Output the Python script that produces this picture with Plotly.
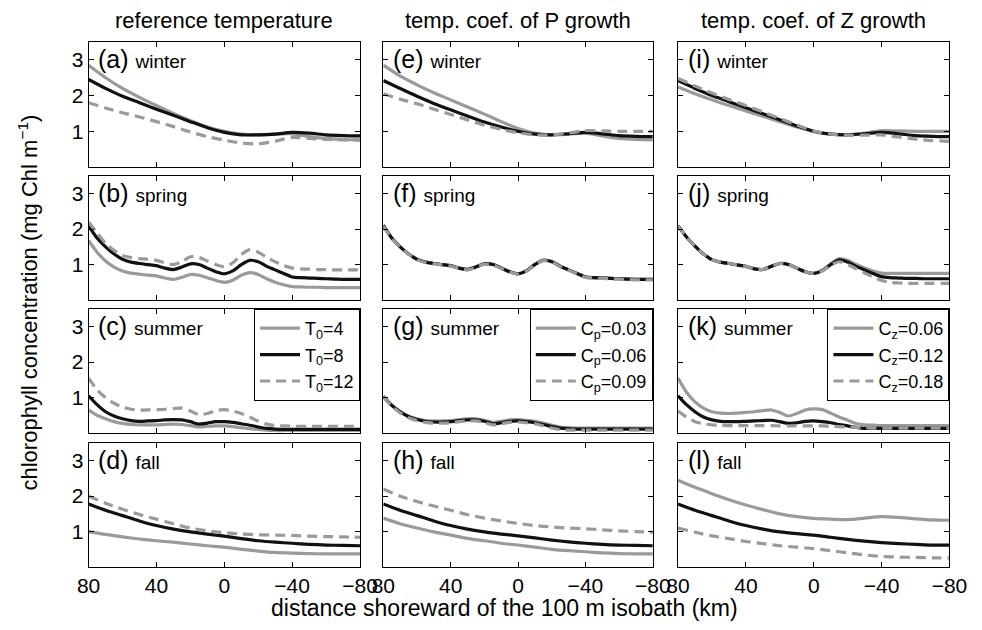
import plotly.graph_objects as go

W, H = 982, 630

# ---------------- data ----------------
x10 = [80, 70, 60, 50, 40, 30, 20, 10, 0, -10, -20, -30, -40, -50, -60, -70, -80]
x5 = [80, 75, 70, 65, 60, 55, 50, 45, 40, 35, 30, 25, 20, 15, 10, 5, 0,
      -5, -10, -15, -20, -25, -30, -35, -40, -45, -50, -55, -60, -65, -70, -75, -80]

# column 1: reference temperature (T0 = 4, 8, 12)
a_gray = [2.85, 2.5, 2.2, 1.95, 1.72, 1.5, 1.3, 1.12, 1.0, 0.92, 0.9, 0.92, 0.93, 0.85, 0.8, 0.77, 0.76]
a_black = [2.45, 2.2, 1.98, 1.8, 1.62, 1.45, 1.27, 1.1, 0.97, 0.9, 0.9, 0.92, 0.97, 0.95, 0.9, 0.88, 0.87]
a_dash = [1.8, 1.65, 1.52, 1.4, 1.27, 1.13, 0.98, 0.85, 0.75, 0.67, 0.65, 0.72, 0.83, 0.8, 0.77, 0.76, 0.75]

b_gray = [1.68, 1.35, 1.1, 0.93, 0.82, 0.76, 0.73, 0.7, 0.68, 0.62, 0.58, 0.64, 0.72, 0.7, 0.63, 0.55, 0.5,
          0.56, 0.7, 0.77, 0.72, 0.6, 0.5, 0.43, 0.38, 0.37, 0.36, 0.36, 0.35, 0.35, 0.35, 0.35, 0.35]
b_black = [2.1, 1.75, 1.5, 1.3, 1.15, 1.07, 1.03, 1.0, 0.97, 0.9, 0.86, 0.93, 1.02, 1.0, 0.9, 0.8, 0.74,
           0.82, 1.0, 1.12, 1.08, 0.95, 0.85, 0.75, 0.65, 0.63, 0.62, 0.61, 0.6, 0.59, 0.58, 0.58, 0.58]
b_dash = [2.2, 1.9, 1.6, 1.4, 1.26, 1.2, 1.17, 1.15, 1.12, 1.05, 1.0, 1.08, 1.22, 1.2, 1.1, 1.0, 0.94,
          1.05, 1.28, 1.42, 1.35, 1.2, 1.08, 0.97, 0.9, 0.88, 0.87, 0.86, 0.86, 0.85, 0.85, 0.85, 0.85]

c_gray = [0.65, 0.5, 0.4, 0.32, 0.27, 0.24, 0.23, 0.23, 0.23, 0.24, 0.25, 0.24, 0.21, 0.17, 0.19, 0.2, 0.2,
          0.18, 0.15, 0.12, 0.1, 0.08, 0.07, 0.07, 0.07, 0.07, 0.07, 0.07, 0.07, 0.07, 0.07, 0.07, 0.07]
c_black = [1.05, 0.8, 0.6, 0.48, 0.4, 0.35, 0.33, 0.34, 0.35, 0.37, 0.38, 0.37, 0.32, 0.25, 0.28, 0.32, 0.32,
           0.3, 0.26, 0.22, 0.17, 0.13, 0.11, 0.1, 0.1, 0.1, 0.1, 0.1, 0.1, 0.1, 0.1, 0.1, 0.1]
c_dash = [1.55, 1.22, 1.0, 0.84, 0.73, 0.67, 0.65, 0.65, 0.66, 0.67, 0.69, 0.7, 0.62, 0.52, 0.55, 0.63, 0.66,
          0.62, 0.55, 0.45, 0.33, 0.25, 0.21, 0.2, 0.19, 0.19, 0.19, 0.19, 0.19, 0.19, 0.19, 0.19, 0.19]

d_gray = [1.0, 0.92, 0.85, 0.79, 0.74, 0.7, 0.65, 0.6, 0.56, 0.5, 0.45, 0.41, 0.39, 0.38, 0.37, 0.37, 0.37]
d_black = [1.78, 1.6, 1.45, 1.3, 1.17, 1.07, 0.99, 0.93, 0.87, 0.8, 0.74, 0.7, 0.67, 0.64, 0.62, 0.61, 0.6]
d_dash = [2.0, 1.8, 1.63, 1.48, 1.35, 1.22, 1.1, 1.02, 0.97, 0.93, 0.91, 0.9, 0.89, 0.87, 0.86, 0.85, 0.84]

# column 2: temp. coef. of P growth (Cp = 0.03, 0.06, 0.09)
e_gray = [2.85, 2.55, 2.3, 2.08, 1.88, 1.68, 1.48, 1.27, 1.08, 0.95, 0.9, 0.92, 0.95, 0.87, 0.8, 0.77, 0.76]
e_black = [2.42, 2.2, 1.98, 1.78, 1.6, 1.43, 1.26, 1.12, 1.0, 0.92, 0.9, 0.93, 0.97, 0.93, 0.88, 0.86, 0.85]
e_dash = [2.05, 1.9, 1.77, 1.62, 1.47, 1.32, 1.17, 1.05, 0.96, 0.9, 0.9, 0.95, 1.02, 1.01, 1.0, 1.0, 1.0]

f_gray = [2.12, 1.76, 1.5, 1.3, 1.15, 1.07, 1.03, 1.0, 0.97, 0.9, 0.87, 0.94, 1.03, 1.01, 0.91, 0.8, 0.74,
          0.83, 1.01, 1.13, 1.09, 0.96, 0.85, 0.75, 0.65, 0.63, 0.62, 0.61, 0.6, 0.59, 0.58, 0.58, 0.58]
f_black = [2.1, 1.75, 1.5, 1.3, 1.15, 1.07, 1.03, 1.0, 0.97, 0.9, 0.86, 0.93, 1.02, 1.0, 0.9, 0.8, 0.74,
           0.82, 1.0, 1.12, 1.08, 0.95, 0.85, 0.75, 0.65, 0.63, 0.62, 0.61, 0.6, 0.59, 0.58, 0.58, 0.58]
f_dash = [2.08, 1.74, 1.49, 1.29, 1.14, 1.06, 1.02, 0.99, 0.96, 0.89, 0.85, 0.92, 1.01, 0.99, 0.89, 0.79, 0.73,
          0.81, 0.99, 1.11, 1.07, 0.94, 0.84, 0.74, 0.64, 0.62, 0.61, 0.6, 0.59, 0.58, 0.57, 0.57, 0.57]

g_gray = [1.04, 0.79, 0.61, 0.48, 0.4, 0.35, 0.34, 0.34, 0.35, 0.38, 0.4, 0.4, 0.36, 0.3, 0.33, 0.37, 0.38,
          0.36, 0.33, 0.28, 0.22, 0.17, 0.15, 0.14, 0.14, 0.14, 0.14, 0.14, 0.14, 0.14, 0.14, 0.14, 0.14]
g_black = [1.03, 0.78, 0.6, 0.46, 0.38, 0.33, 0.31, 0.31, 0.32, 0.35, 0.37, 0.37, 0.33, 0.26, 0.29, 0.33, 0.34,
           0.32, 0.29, 0.24, 0.18, 0.14, 0.12, 0.11, 0.11, 0.11, 0.11, 0.11, 0.11, 0.11, 0.11, 0.11, 0.11]
g_dash = [1.02, 0.76, 0.57, 0.43, 0.35, 0.3, 0.28, 0.28, 0.29, 0.32, 0.34, 0.34, 0.3, 0.23, 0.26, 0.3, 0.31,
          0.29, 0.26, 0.2, 0.14, 0.1, 0.08, 0.08, 0.08, 0.08, 0.08, 0.08, 0.08, 0.08, 0.08, 0.08, 0.08]

h_gray = [1.38, 1.22, 1.1, 0.99, 0.9, 0.81, 0.74, 0.67, 0.62, 0.56, 0.5, 0.46, 0.43, 0.4, 0.38, 0.37, 0.37]
h_black = [1.78, 1.6, 1.45, 1.3, 1.17, 1.07, 0.99, 0.93, 0.88, 0.82, 0.76, 0.71, 0.67, 0.64, 0.62, 0.61, 0.6]
h_dash = [2.2, 2.0, 1.85, 1.72, 1.6, 1.48, 1.38, 1.3, 1.23, 1.17, 1.13, 1.1, 1.08, 1.05, 1.02, 1.0, 0.98]

# column 3: temp. coef. of Z growth (Cz = 0.06, 0.12, 0.18)
i_gray = [2.24, 2.05, 1.88, 1.72, 1.57, 1.42, 1.27, 1.12, 0.99, 0.92, 0.9, 0.95, 1.02, 1.01, 1.0, 1.0, 1.0]
i_black = [2.42, 2.2, 2.0, 1.83, 1.66, 1.49, 1.32, 1.15, 1.0, 0.92, 0.9, 0.93, 0.97, 0.93, 0.88, 0.86, 0.85]
i_dash = [2.48, 2.27, 2.07, 1.89, 1.72, 1.54, 1.36, 1.18, 1.01, 0.92, 0.89, 0.89, 0.9, 0.84, 0.78, 0.74, 0.72]

j_gray = [2.1, 1.78, 1.52, 1.3, 1.14, 1.07, 1.03, 0.99, 0.95, 0.88, 0.86, 0.95, 1.03, 1.0, 0.9, 0.8, 0.75,
          0.84, 1.02, 1.17, 1.12, 1.0, 0.9, 0.82, 0.76, 0.75, 0.75, 0.75, 0.75, 0.75, 0.75, 0.75, 0.75]
j_black = [2.1, 1.78, 1.52, 1.3, 1.14, 1.07, 1.03, 0.99, 0.95, 0.88, 0.86, 0.95, 1.03, 1.0, 0.9, 0.8, 0.75,
           0.83, 1.0, 1.13, 1.07, 0.95, 0.85, 0.75, 0.66, 0.63, 0.62, 0.61, 0.61, 0.6, 0.6, 0.6, 0.6]
j_dash = [2.1, 1.78, 1.52, 1.3, 1.14, 1.07, 1.03, 0.99, 0.95, 0.88, 0.86, 0.95, 1.03, 1.0, 0.9, 0.8, 0.75,
          0.82, 0.98, 1.08, 1.0, 0.88, 0.76, 0.65, 0.55, 0.5, 0.48, 0.47, 0.47, 0.47, 0.47, 0.47, 0.47]

k_gray = [1.55, 1.15, 0.88, 0.7, 0.6, 0.56, 0.55, 0.56, 0.58, 0.6, 0.63, 0.65, 0.58, 0.48, 0.55, 0.65, 0.68,
          0.66, 0.56, 0.45, 0.36, 0.27, 0.23, 0.22, 0.21, 0.21, 0.21, 0.21, 0.21, 0.21, 0.21, 0.21, 0.21]
k_black = [1.05, 0.8, 0.6, 0.45, 0.37, 0.33, 0.32, 0.32, 0.33, 0.34, 0.35, 0.36, 0.32, 0.27, 0.29, 0.33, 0.34,
           0.32, 0.29, 0.24, 0.2, 0.16, 0.13, 0.13, 0.13, 0.13, 0.13, 0.13, 0.13, 0.13, 0.13, 0.13, 0.13]
k_dash = [0.62, 0.45, 0.32, 0.26, 0.23, 0.22, 0.21, 0.21, 0.21, 0.21, 0.21, 0.21, 0.2, 0.2, 0.2, 0.2, 0.2,
          0.2, 0.19, 0.18, 0.17, 0.16, 0.15, 0.14, 0.14, 0.14, 0.14, 0.14, 0.14, 0.14, 0.14, 0.14, 0.14]

l_gray = [2.45, 2.25, 2.07, 1.9, 1.75, 1.62, 1.5, 1.42, 1.37, 1.35, 1.34, 1.38, 1.42, 1.4, 1.36, 1.33, 1.32]
l_black = [1.78, 1.6, 1.45, 1.3, 1.17, 1.07, 0.99, 0.94, 0.9, 0.84, 0.78, 0.73, 0.69, 0.66, 0.64, 0.62, 0.62]
l_dash = [1.1, 0.98, 0.88, 0.8, 0.72, 0.66, 0.6, 0.56, 0.52, 0.46, 0.4, 0.34, 0.3, 0.28, 0.27, 0.26, 0.26]

col_titles = ["reference temperature", "temp. coef. of P growth", "temp. coef. of Z growth"]
seasons = ["winter", "spring", "summer", "fall"]
letters = ["abcd", "efgh", "ijkl"]
legend_names = [["T<sub>0</sub>=4", "T<sub>0</sub>=8", "T<sub>0</sub>=12"],
                ["C<sub>p</sub>=0.03", "C<sub>p</sub>=0.06", "C<sub>p</sub>=0.09"],
                ["C<sub>z</sub>=0.06", "C<sub>z</sub>=0.12", "C<sub>z</sub>=0.18"]]
x_ticks = [80, 40, 0, -40, -80]
y_ticks = [1, 2, 3]

panels = [
    [(x10, a_gray, a_black, a_dash), (x5, b_gray, b_black, b_dash), (x5, c_gray, c_black, c_dash), (x10, d_gray, d_black, d_dash)],
    [(x10, e_gray, e_black, e_dash), (x5, f_gray, f_black, f_dash), (x5, g_gray, g_black, g_dash), (x10, h_gray, h_black, h_dash)],
    [(x10, i_gray, i_black, i_dash), (x5, j_gray, j_black, j_dash), (x5, k_gray, k_black, k_dash), (x10, l_gray, l_black, l_dash)],
]

# ---------------- layout geometry (pixels) ----------------
col_px = [(79, 359), (383, 661), (687, 967)]
row_px = [(42, 167), (176, 300), (309, 433), (443, 567)]

GRAY = "#9a9a9a"
BLACK = "#111111"
FONT = "Liberation Sans, Arial, Helvetica, sans-serif"

fig = go.Figure()
layout = dict(
    width=W, height=H, margin=dict(l=0, r=0, t=0, b=0),
    paper_bgcolor="white", plot_bgcolor="white",
    font=dict(family=FONT, size=20, color="black"),
    annotations=[],
)

legend_keys = ["legend", "legend2", "legend3"]

n = 0
for c in range(3):
    for r in range(4):
        n += 1
        xa = "x" if n == 1 else f"x{n}"
        ya = "y" if n == 1 else f"y{n}"
        xs, g, b, d = panels[c][r]
        show = (r == 2)
        styles = [(g, GRAY, "solid"), (b, BLACK, "solid"), (d, GRAY, "10px,6px")]
        for k, (vals, col, dash) in enumerate(styles):
            fig.add_trace(go.Scatter(
                x=xs, y=vals, mode="lines", xaxis=xa, yaxis=ya,
                line=dict(color=col, width=3.2, dash=dash, shape="spline", smoothing=0.8),
                name=legend_names[c][k], showlegend=show,
                legend=legend_keys[c], hoverinfo="skip",
            ))
        x0, x1 = col_px[c]
        y0, y1 = row_px[r]
        axkw = dict(showline=True, linecolor="black", linewidth=1, mirror="ticks",
                    ticks="inside", ticklen=5, tickcolor="black", tickwidth=1,
                    showgrid=False, zeroline=False,
                    tickfont=dict(family=FONT, size=21, color="black"))
        layout["xaxis" if n == 1 else f"xaxis{n}"] = dict(
            domain=[x0 / W, x1 / W], anchor=ya, range=[80, -80],
            tickvals=x_ticks, showticklabels=(r == 3), **axkw)
        layout["yaxis" if n == 1 else f"yaxis{n}"] = dict(
            domain=[1 - y1 / H, 1 - y0 / H], anchor=xa, range=[0, 3.5],
            tickvals=y_ticks, showticklabels=(c == 0), **axkw)
        layout["annotations"].append(dict(
            xref="paper", yref="paper", x=(x0 + 8) / W, y=1 - (y0 + 17) / H,
            xanchor="left", yanchor="middle", showarrow=False,
            text=f"({letters[c][r]}) <span style='font-size:19px'>{seasons[r]}</span>",
            font=dict(family=FONT, size=25, color="black")))
    layout["annotations"].append(dict(
        xref="paper", yref="paper", x=(col_px[c][0] + col_px[c][1]) / 2 / W, y=1 - 20 / H,
        xanchor="center", yanchor="middle", showarrow=False, text=col_titles[c],
        font=dict(family=FONT, size=22, color="black")))
    layout[legend_keys[c]] = dict(
        x=col_px[c][1] / W, y=1 - row_px[2][0] / H, xanchor="right", yanchor="top",
        bordercolor="black", borderwidth=1, bgcolor="white",
        font=dict(family=FONT, size=18, color="black"),
        tracegroupgap=0, itemwidth=40)

layout["annotations"].append(dict(
    xref="paper", yref="paper", x=16 / W, y=1 - 303 / H, xanchor="center", yanchor="middle",
    textangle=-90, showarrow=False,
    text="chlorophyll concentration (mg Chl m<sup>\u22121</sup>)",
    font=dict(family=FONT, size=22, color="black")))
layout["annotations"].append(dict(
    xref="paper", yref="paper", x=508 / W, y=1 - 608 / H, xanchor="center", yanchor="middle",
    showarrow=False, text="distance shoreward of the 100 m isobath (km)",
    font=dict(family=FONT, size=23, color="black")))

fig.update_layout(**layout)
fig.write_html("out.html")
